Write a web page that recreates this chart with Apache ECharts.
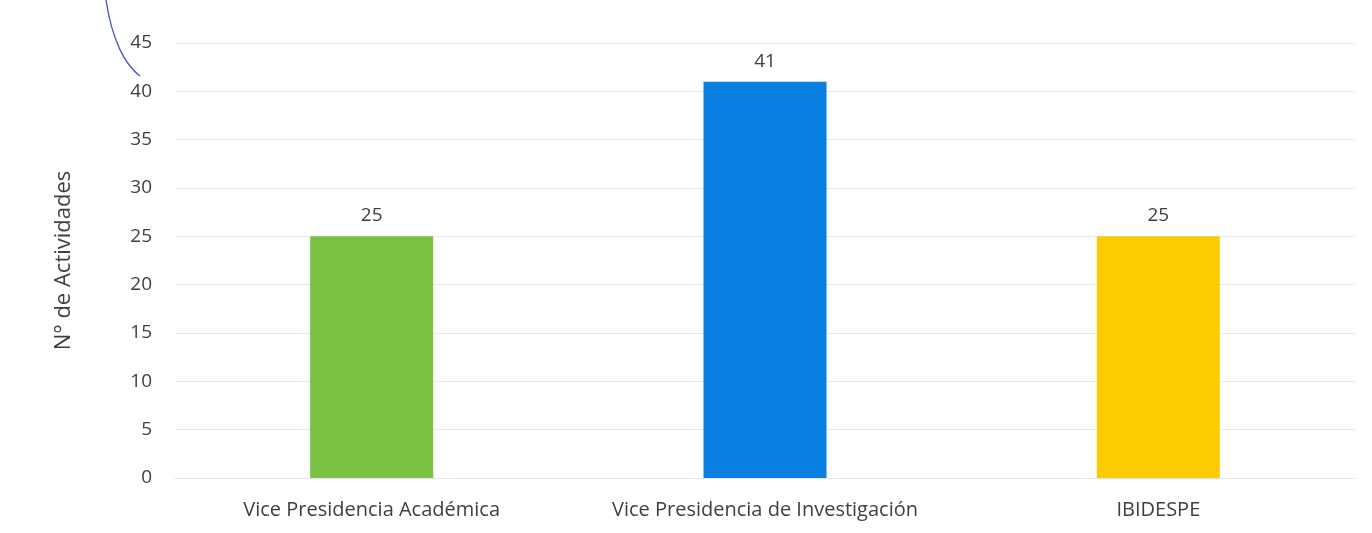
<!DOCTYPE html>
<html><head><meta charset="utf-8">
<script src="https://cdn.jsdelivr.net/npm/echarts@6/dist/echarts.min.js"></script>
<style>html,body{margin:0;padding:0;background:#fff}#c{width:1372px;height:533px}</style>
</head><body><div id="c"></div>
<script>
const categories = ['Vice Presidencia Académica', 'Vice Presidencia de Investigación', 'IBIDESPE'];
const values = [25, 41, 25];
const barColors = ['#7cc242', '#0a7fe2', '#fdcb02'];
const yTicks = [0, 5, 10, 15, 20, 25, 30, 35, 40, 45];
const yTitle = 'N° de Actividades';

const chart = echarts.init(document.getElementById('c'), null, {renderer: 'canvas'});
const font = '"Open Sans", "Noto Sans", sans-serif';
chart.setOption({
  animation: false,
  backgroundColor: '#fff',
  grid: {left: 175, right: 17, top: 43, bottom: 55, containLabel: false},
  xAxis: {
    type: 'category', data: categories,
    axisLine: {show: true, lineStyle: {color: '#e4e4e4'}},
    axisTick: {show: false},
    axisLabel: {interval: 0, hideOverlap: false, color: '#404040', fontFamily: font, fontSize: 20, margin: 22}
  },
  yAxis: {
    type: 'value', min: yTicks[0], max: yTicks[yTicks.length - 1], interval: 5,
    name: yTitle, nameLocation: 'middle', nameGap: 100,
    nameTextStyle: {color: '#404040', fontFamily: font, fontSize: 22},
    axisLine: {show: false}, axisTick: {show: false},
    axisLabel: {color: '#404040', fontFamily: font, fontSize: 19, margin: 23},
    splitLine: {lineStyle: {color: '#e8e8e8', width: 1}}
  },
  series: [{
    type: 'bar', barWidth: 123,
    data: values.map((v, i) => ({value: v, itemStyle: {color: barColors[i]}})),
    label: {show: true, position: 'top', distance: 11, color: '#404040', fontFamily: font, fontSize: 19}
  }],
  graphic: [{
    type: 'bezierCurve', silent: true,
    shape: {x1: 106, y1: 0, x2: 140, y2: 76, cpx1: 112, cpy1: 40, cpx2: 125, cpy2: 65},
    style: {stroke: '#4a55c8', lineWidth: 1.3, fill: null}
  }]
});
</script></body></html>
